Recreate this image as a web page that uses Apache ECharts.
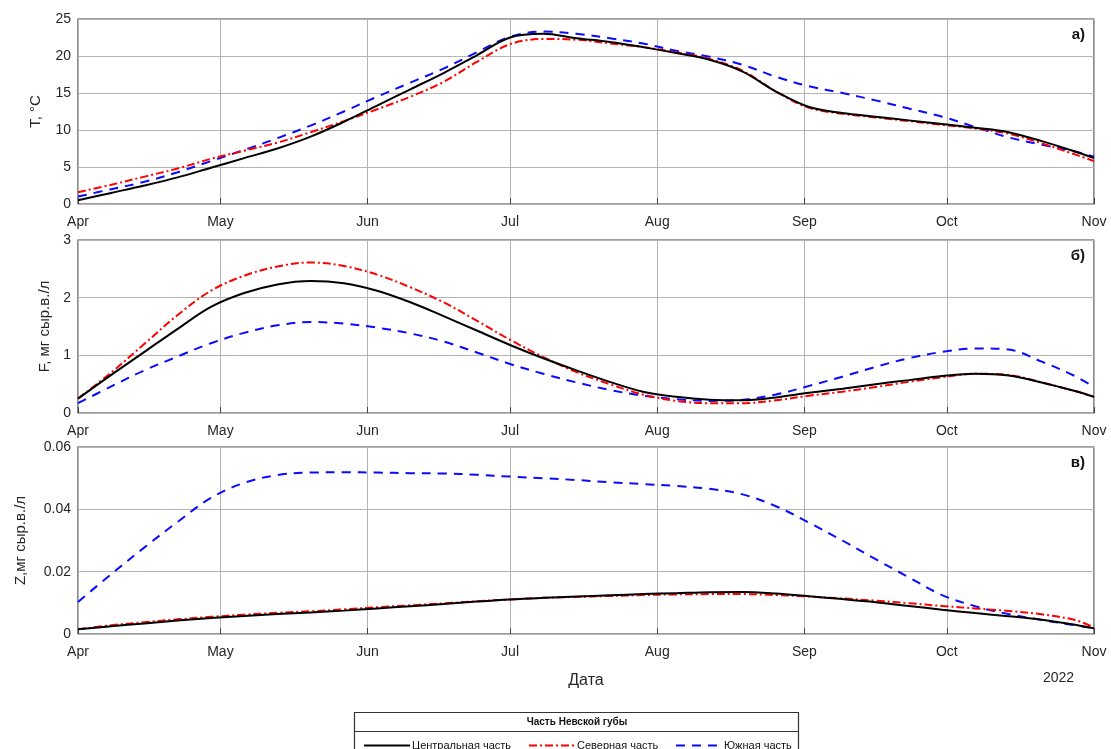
<!DOCTYPE html>
<html lang="ru">
<head>
<meta charset="UTF-8">
<title>Невская губа 2022</title>
<style>
  * { margin: 0; padding: 0; }
  body { background: #fff; }
  #chart { width: 1111px; height: 749px; }
</style>
</head>
<body>
<div id="chart"></div>
<script src="https://cdn.jsdelivr.net/npm/echarts@6/dist/echarts.min.js"></script>
<script>
// даты отсчётов (2022), шаг неделя
const dates = ['2022-04-01', '2022-04-08', '2022-04-15', '2022-04-22', '2022-04-29',
  '2022-05-06', '2022-05-13', '2022-05-20', '2022-05-27', '2022-06-03', '2022-06-10',
  '2022-06-17', '2022-06-24', '2022-07-01', '2022-07-08', '2022-07-15', '2022-07-22',
  '2022-07-29', '2022-08-05', '2022-08-12', '2022-08-19', '2022-08-26', '2022-09-02',
  '2022-09-09', '2022-09-16', '2022-09-23', '2022-09-30', '2022-10-07', '2022-10-14',
  '2022-10-21', '2022-10-28', '2022-11-01'];

const seriesNames = ['Центральная часть', 'Северная часть', 'Южная часть'];

// а) температура, °C
const tCentral = [0.5, 1.5, 2.5, 3.6, 4.9, 6.2, 7.5, 9.1, 11.1, 13.3, 15.5, 17.7, 20.1, 22.5, 23.0, 22.4,
  21.9, 21.2, 20.4, 19.5, 17.9, 15.2, 13.1, 12.3, 11.8, 11.3, 10.8, 10.3, 9.7, 8.5, 7.1, 6.2];
const tNorth = [1.6, 2.6, 3.7, 4.8, 6.1, 7.2, 8.3, 9.7, 11.2, 12.8, 14.5, 16.5, 19.2, 21.6, 22.3, 22.2,
  21.7, 21.2, 20.5, 19.6, 18.0, 15.2, 13.0, 12.2, 11.7, 11.2, 10.7, 10.2, 9.5, 8.2, 6.7, 5.8];
const tSouth = [1.0, 2.0, 3.0, 4.3, 5.8, 7.3, 8.9, 10.6, 12.5, 14.5, 16.4, 18.3, 20.5, 22.6, 23.3, 23.0,
  22.4, 21.7, 20.7, 19.9, 18.8, 17.2, 15.9, 15.0, 14.0, 12.9, 11.8, 10.4, 9.0, 8.0, 7.1, 6.4];

// б) фитопланктон F, мг сыр.в./л
const fCentral = [0.25, 0.66, 1.06, 1.46, 1.84, 2.08, 2.23, 2.29, 2.25, 2.12, 1.92, 1.68, 1.43, 1.18, 0.95, 0.74,
  0.54, 0.37, 0.28, 0.23, 0.22, 0.27, 0.35, 0.42, 0.50, 0.57, 0.64, 0.68, 0.65, 0.53, 0.38, 0.28];
const fNorth = [0.25, 0.70, 1.20, 1.70, 2.12, 2.38, 2.54, 2.61, 2.55, 2.40, 2.18, 1.92, 1.60, 1.27, 0.97, 0.71,
  0.50, 0.32, 0.21, 0.17, 0.17, 0.22, 0.30, 0.37, 0.45, 0.54, 0.62, 0.68, 0.66, 0.53, 0.38, 0.28];
const fSouth = [0.17, 0.46, 0.74, 0.98, 1.21, 1.39, 1.52, 1.58, 1.55, 1.48, 1.38, 1.24, 1.05, 0.85, 0.68, 0.53,
  0.40, 0.30, 0.24, 0.21, 0.23, 0.32, 0.47, 0.63, 0.80, 0.95, 1.06, 1.12, 1.10, 0.89, 0.64, 0.45];

// в) зоопланктон Z, мг сыр.в./л
const zCentral = [0.0015, 0.0025, 0.0034, 0.0043, 0.0051, 0.0058, 0.0064, 0.0069, 0.0075, 0.0082, 0.0089,
  0.0096, 0.0104, 0.0111, 0.0116, 0.0120, 0.0124, 0.0128, 0.0131, 0.0134, 0.0135, 0.0130, 0.0121, 0.0112,
  0.0102, 0.0090, 0.0078, 0.0067, 0.0057, 0.0046, 0.0030, 0.0018];
const zNorth = [0.0015, 0.0028, 0.0038, 0.0047, 0.0055, 0.0062, 0.0068, 0.0073, 0.0079, 0.0086, 0.0092,
  0.0098, 0.0105, 0.0111, 0.0116, 0.0119, 0.0122, 0.0125, 0.0127, 0.0128, 0.0128, 0.0125, 0.0120, 0.0114,
  0.0107, 0.0099, 0.0090, 0.0082, 0.0074, 0.0063, 0.0045, 0.0021];
const zSouth = [0.0103, 0.0192, 0.0278, 0.0360, 0.0437, 0.0485, 0.0510, 0.0518, 0.0519, 0.0518, 0.0516,
  0.0515, 0.0511, 0.0505, 0.0500, 0.0494, 0.0487, 0.0481, 0.0475, 0.0466, 0.0448, 0.0410, 0.0357, 0.0300,
  0.0240, 0.0182, 0.0125, 0.0089, 0.0064, 0.0045, 0.0028, 0.0019];

const panels = [
  { name: 'T, °C', data: [tCentral, tNorth, tSouth], max: 25, interval: 5, nameGap: 35, tag: 'а)' },
  { name: 'F, мг сыр.в./л', data: [fCentral, fNorth, fSouth], max: 3, interval: 1, nameGap: 24, tag: 'б)' },
  { name: 'Z,мг сыр.в./л', data: [zCentral, zNorth, zSouth], max: 0.06, interval: 0.02, nameGap: 50, tag: 'в)' }
];

const gridBoxes = [
  { top: 19, height: 185 },
  { top: 240, height: 173 },
  { top: 447, height: 187 }
];

const lineStyles = [
  { color: '#000000', width: 2, type: 'solid' },
  { color: '#ff0000', width: 2, type: [8, 3, 2, 3] },
  { color: '#0a0aff', width: 2, type: [9, 7] }
];

const font = 'Liberation Sans, Arial, sans-serif';
const txt = '#262626';

const chart = echarts.init(document.getElementById('chart'));

const grids = gridBoxes.map(g => ({
  left: 78, right: 17, top: g.top, height: g.height,
  show: true, borderColor: '#404040', borderWidth: 1.2, backgroundColor: 'transparent'
}));

const xAxes = panels.map((p, i) => ({
  type: 'time', gridIndex: i,
  min: '2022-04-01', max: '2022-11-01',
  minInterval: 28 * 86400000, maxInterval: 31 * 86400000,
  axisLine: { show: false },
  axisTick: { inside: true, length: 6, lineStyle: { color: '#404040' } },
  splitLine: { show: true, lineStyle: { color: '#b4b4b4', width: 1 } },
  axisLabel: {
    formatter: '{MMM}', color: txt, fontSize: 14, fontFamily: font, margin: 11,
    showMinLabel: true, showMaxLabel: true, hideOverlap: false
  },
  name: i === 2 ? 'Дата' : '', nameLocation: 'middle', nameGap: 39,
  nameTextStyle: { color: txt, fontSize: 16, fontFamily: font }
}));

const yAxes = panels.map((p, i) => ({
  type: 'value', gridIndex: i, min: 0, max: p.max, interval: p.interval,
  axisLine: { show: false },
  axisTick: { inside: true, length: 6, lineStyle: { color: '#404040' } },
  splitLine: { show: true, lineStyle: { color: '#b4b4b4', width: 1 } },
  axisLabel: { color: txt, fontSize: 14, fontFamily: font, margin: 7 },
  name: p.name, nameLocation: 'middle', nameGap: p.nameGap, nameRotate: 90,
  nameTextStyle: { color: txt, fontSize: 15, fontFamily: font }
}));

const series = [];
panels.forEach((p, i) => {
  p.data.forEach((vals, k) => {
    series.push({
      name: seriesNames[k], type: 'line', xAxisIndex: i, yAxisIndex: i,
      data: dates.map((d, j) => [d, vals[j]]),
      smooth: 0.35, showSymbol: false, symbol: 'none',
      lineStyle: lineStyles[k], itemStyle: { color: lineStyles[k].color },
      z: 10 - k
    });
  });
});

// отдельная легенда на каждую линию, чтобы стояли как в оригинале
const legendLefts = [358, 523, 670];
const legends = seriesNames.map((n, k) => ({
  data: [n], left: legendLefts[k], top: 735,
  itemWidth: 46, itemHeight: 10, itemGap: 2,
  itemStyle: { opacity: 0, borderWidth: 0 },
  textStyle: { color: '#111', fontSize: 11, fontFamily: font, padding: [0, 0, 0, -3] },
  selectedMode: false
}));

const tags = panels.map((p, i) => ({
  type: 'text', right: 26, top: gridBoxes[i].top + 8,
  style: { text: p.tag, font: 'bold 15px ' + font, fill: '#111' }
}));

chart.setOption({
  animation: false,
  grid: grids,
  xAxis: xAxes,
  yAxis: yAxes,
  series: series,
  legend: legends,
  graphic: tags.concat([
    { type: 'text', left: 1043, top: 671, style: { text: '2022', font: '14px ' + font, fill: txt } },
    { type: 'rect', shape: { x: 354.5, y: 712.5, width: 444, height: 50 },
      style: { fill: 'none', stroke: '#333', lineWidth: 1.2 }, z: -1 },
    { type: 'line', shape: { x1: 354.5, y1: 731.5, x2: 798.5, y2: 731.5 },
      style: { stroke: '#333', lineWidth: 1.2 } },
    { type: 'text', x: 577, y: 722, style: { text: 'Часть Невской губы', font: 'bold 10px ' + font,
      fill: '#111', align: 'center', verticalAlign: 'middle' } }
  ])
});
</script>
</body>
</html>
